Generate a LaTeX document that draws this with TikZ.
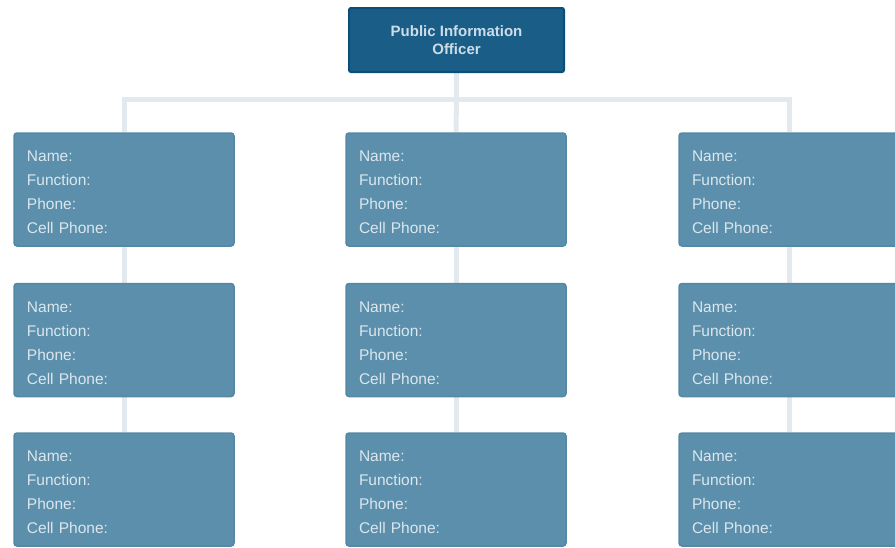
\documentclass[tikz,border=0pt]{standalone}
\usepackage{fontspec}
\setmainfont{Liberation Sans}
\usetikzlibrary{backgrounds}
\definecolor{topfill}{HTML}{1A5E88}
\definecolor{topedge}{HTML}{0C4E7A}
\definecolor{boxfill}{HTML}{5B8FAB}
\definecolor{boxedge}{HTML}{5388A6}
\definecolor{linkcol}{HTML}{E2EAF0}
\definecolor{boxtext}{HTML}{DCE7EE}
\definecolor{toptext}{HTML}{CCDDE8}
\tikzset{
  topbox/.style={draw=topedge, line width=2pt, fill=topfill, rounded corners=2pt,
    minimum width=215pt, minimum height=64pt, align=center, text=toptext,
    font=\fontsize{15}{17.5}\selectfont\bfseries},
  personbox/.style={draw=boxedge, line width=1.5pt, fill=boxfill, rounded corners=3pt,
    minimum width=220pt, minimum height=113pt, text width=194pt, align=left,
    text=boxtext, font=\fontsize{15.5}{24}\selectfont},
  link/.style={draw=linkcol, line width=5pt}
}
\newcommand{\personinfo}{\rule{0pt}{17pt}Name:\\Function:\\Phone:\\Cell Phone:}
\begin{document}
\begin{tikzpicture}[x=1pt,y=-1pt]
\useasboundingbox (0,0) rectangle (895,547);
\node[topbox] (top) at (456.5,40) {Public Information\\Officer};
\foreach \c/\x in {a/124,b/456,c/789}{
  \node[personbox] (\c1) at (\x,189.5) {\personinfo};
  \node[personbox] (\c2) at (\x,340) {\personinfo};
  \node[personbox] (\c3) at (\x,489.5) {\personinfo};
}
\coordinate (bus) at (456,99);
\begin{scope}[on background layer]
  \draw[link] (top) -- (b1);
  \draw[link] (a1.north) |- (bus) -| (c1.north);
  \foreach \c in {a,b,c}{
    \draw[link] (\c1) -- (\c2);
    \draw[link] (\c2) -- (\c3);
  }
\end{scope}
\end{tikzpicture}
\end{document}
